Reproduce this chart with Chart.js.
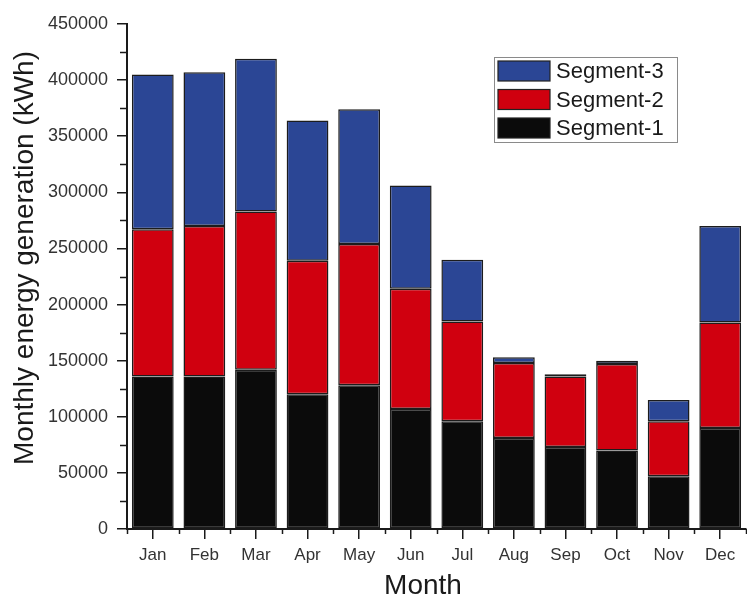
<!DOCTYPE html>
<html><head><meta charset="utf-8">
<script src="https://cdn.jsdelivr.net/npm/chart.js@4"></script>
<style>html,body{margin:0;padding:0;background:#fff}#wrap{width:747px;height:597px}</style>
</head><body><div id="wrap"><canvas id="c"></canvas></div>
<script>
const months = ["Jan","Feb","Mar","Apr","May","Jun","Jul","Aug","Sep","Oct","Nov","Dec"];
const segment1 = [136000,136000,142000,120000,128000,107000,96000,81000,73000,70000,47000,90000];
const segment2 = [131000,134000,141000,119000,126000,107000,89000,67000,63000,77000,49000,94000];
const segment3 = [138000,137000,136000,125000,120000,92000,55000,5000,2000,3000,19000,86000];
const yTicks = [0,50000,100000,150000,200000,250000,300000,350000,400000,450000];
const xTitle = 'Month';
const yTitle = 'Monthly energy generation (kWh)';

const FONT = "'Liberation Sans', Arial, sans-serif";
const axisColor = '#1a1a1a';

const extras = {
  id: 'extras',
  afterDraw(chart) {
    const ctx = chart.ctx;
    const y = chart.scales.y, x = chart.scales.x;
    const ca = chart.chartArea;
    ctx.save();
    ctx.strokeStyle = axisColor;
    ctx.lineWidth = 1.5;
    // minor y ticks
    for (let i = 0; i < yTicks.length - 1; i++) {
      const v = (yTicks[i] + yTicks[i+1]) / 2;
      const py = Math.round(y.getPixelForValue(v)) + 0.5;
      ctx.beginPath(); ctx.moveTo(ca.left - 7, py); ctx.lineTo(ca.left, py); ctx.stroke();
    }
    // minor x ticks at category boundaries
    for (let i = 0; i <= months.length; i++) {
      const px = Math.round(x.getPixelForValue(i - 0.5)) + 0.5;
      ctx.beginPath(); ctx.moveTo(px, ca.bottom); ctx.lineTo(px, ca.bottom + 5); ctx.stroke();
    }
    // axis titles
    ctx.fillStyle = '#1a1a1a';
    ctx.font = "28px " + FONT;
    ctx.textAlign = 'center';
    ctx.textBaseline = 'alphabetic';
    ctx.fillText(xTitle, 423, 594);
    ctx.save();
    ctx.translate(33, 258);
    ctx.rotate(-Math.PI / 2);
    ctx.fillText(yTitle, 0, 0);
    ctx.restore();
    // legend
    const lx = 494, ly = 57, lw = 183, lh = 85;
    ctx.fillStyle = '#fff';
    ctx.fillRect(lx, ly, lw, lh);
    ctx.strokeStyle = '#8a8a8a'; ctx.lineWidth = 1;
    ctx.strokeRect(lx + 0.5, ly + 0.5, lw, lh);
    const items = [2,1,0];
    ctx.font = "22px " + FONT;
    ctx.textAlign = 'left';
    ctx.textBaseline = 'middle';
    items.forEach((di, k) => {
      const ds = chart.data.datasets[di];
      const sy = 61 + k * 28.5;
      ctx.fillStyle = ds.backgroundColor;
      ctx.fillRect(498, sy, 52, 20);
      ctx.strokeStyle = '#222'; ctx.lineWidth = 1.2;
      ctx.strokeRect(498, sy, 52, 20);
      ctx.fillStyle = '#1a1a1a';
      ctx.fillText(ds.label, 556, sy + 11);
    });
    ctx.restore();
  }
};

new Chart(document.getElementById('c'), {
  type: 'bar',
  data: {
    labels: months,
    datasets: [
      {label: 'Segment-1', data: segment1, backgroundColor: '#0b0b0b'},
      {label: 'Segment-2', data: segment2, backgroundColor: '#d0000f'},
      {label: 'Segment-3', data: segment3, backgroundColor: '#2b4695'}
    ].map(d => Object.assign(d, {borderColor: '#1c1c1c', borderWidth: 1.5, borderSkipped: false, barPercentage: 0.81, categoryPercentage: 1}))
  },
  options: {
    responsive: true, maintainAspectRatio: false, animation: false,
    layout: {padding: {top: 24, right: 1, left: 0, bottom: 0}},
    plugins: {legend: {display: false}, tooltip: {enabled: false}},
    scales: {
      x: {
        stacked: true,
        offset: true,
        grid: {display: true, drawOnChartArea: false, offset: false, tickLength: 10, color: axisColor, lineWidth: 1.5},
        border: {display: true, color: axisColor, width: 2},
        ticks: {color: '#333', font: {family: FONT, size: 17}, padding: 6, maxRotation: 0},
        afterFit(s) { s.height = 68; }
      },
      y: {
        stacked: true,
        min: 0, max: 450000,
        afterBuildTicks(s) { s.ticks = yTicks.map(v => ({value: v})); },
        grid: {display: true, drawOnChartArea: false, tickLength: 10, color: axisColor, lineWidth: 1.5},
        border: {display: true, color: axisColor, width: 2},
        ticks: {color: '#333', font: {family: FONT, size: 18}, padding: 9, callback: v => String(v)},
        afterFit(s) { s.width = 127; }
      }
    }
  },
  plugins: [extras]
});
</script>
</body></html>
